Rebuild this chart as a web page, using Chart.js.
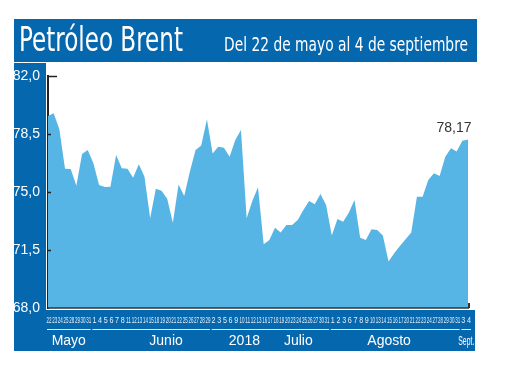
<!DOCTYPE html>
<html>
<head>
<meta charset="utf-8">
<script src="https://cdn.jsdelivr.net/npm/chart.js@4"></script>
<style>
  body { margin: 0; background: #fff; }
  #wrap { width: 520px; height: 390px; position: relative; }
</style>
</head>
<body>
<div id="wrap"><canvas id="brentChart"></canvas></div>
<script>
// Trading days shown on the axis (22 May - 4 Sept 2018)
const days = [
    '22','23','24','25','28','29','30','31',
    '1','4','5','6','7','8','11','12','13','14','15','18','19','20','21','22','25','26','27','28','29',
    '2','3','5','6','9','10','11','12','13','16','17','18','19','20','23','24','25','26','27','30','31',
    '1','2','3','6','7','8','9','10','13','14','15','16','17','20','21','22','23','24','27','28','29','30','31',
    '3','4'
];

// Brent price, USD per barrel
const prices = [
    79.59, 79.75, 78.78, 76.41, 76.39, 75.38, 77.29, 77.54,
    76.73, 75.42, 75.30, 75.32, 77.23, 76.43, 76.41, 75.86, 76.67, 75.92, 73.41, 75.20, 75.08, 74.60, 73.15, 75.46, 74.76, 76.23, 77.54, 77.80, 79.39,
    77.33, 77.73, 77.67, 77.13, 78.14, 78.74, 73.41, 74.46, 75.28, 71.84, 72.10, 72.85, 72.55, 73.01, 73.01, 73.31, 73.91, 74.46, 74.26, 74.88, 74.22,
    72.37, 73.37, 73.21, 73.75, 74.52, 72.24, 72.10, 72.75, 72.71, 72.37, 70.80, 71.30, 71.74, 72.15, 72.55, 74.72, 74.72, 75.73, 76.13, 75.97, 77.13, 77.64, 77.44,
    78.10, 78.17
];

const months = ['Mayo', 'Junio', 'Julio', 'Agosto', 'Sept.'];
const monthDays = [8, 21, 21, 23, 2];
const yearLabel = '2018';

const yTicks = [68, 71.5, 75, 78.5, 82];

const titleText = 'Petróleo Brent';
const subtitleText = 'Del 22 de mayo al 4 de septiembre';

// where month names sit, as a (fractional) point index
const monthLabelAt = { 'Mayo': 3.66, 'Junio': 20.8, 'Julio': 44.1, 'Agosto': 60.1, 'Sept.': 73.7 };
const yearLabelAt = 34.6;

const BLUE = '#0567ad';
const FILL = '#56b5e4';

function fmt(v, d) {
    return v.toFixed(d).replace('.', ',');
}

// blue frame + title behind the chart, axis extras on top
const framePlugin = {
    id: 'frame',
    beforeDraw(chart) {
        const ctx = chart.ctx;
        ctx.save();
        ctx.fillStyle = '#fff';
        ctx.fillRect(0, 0, chart.width, chart.height);

        ctx.fillStyle = BLUE;
        ctx.fillRect(14, 19, 463, 43);   // title bar
        ctx.fillRect(14, 63, 32, 288);   // left column
        ctx.fillRect(14, 310, 461, 41);  // bottom band

        ctx.fillStyle = '#fff';
        ctx.textBaseline = 'alphabetic';
        ctx.textAlign = 'left';
        ctx.font = '33px "Liberation Sans Narrow", "DejaVu Sans Condensed", sans-serif';
        ctx.fillText(titleText, 19, 51, 164);
        ctx.font = '19px "Liberation Sans Narrow", "DejaVu Sans Condensed", sans-serif';
        ctx.fillText(subtitleText, 224, 51, 244);
        ctx.restore();
    },
    afterDraw(chart) {
        const ctx = chart.ctx;
        const area = chart.chartArea;
        const xs = chart.scales.x;
        const ys = chart.scales.y;
        ctx.save();

        // inward ticks on the value axis
        ctx.strokeStyle = '#222';
        ctx.lineWidth = 1.5;
        yTicks.forEach(v => {
            if (v === 68) return;
            const y = Math.round(ys.getPixelForValue(v)) + 0.5;
            ctx.beginPath();
            ctx.moveTo(area.left, y);
            ctx.lineTo(area.left + (v === 82 ? 9 : 3), y);
            ctx.stroke();
        });

        // bottom axis line and end mark
        ctx.strokeStyle = '#333';
        ctx.lineWidth = 1.5;
        ctx.beginPath();
        ctx.moveTo(area.left, area.bottom);
        ctx.lineTo(area.right + 1, area.bottom);
        ctx.stroke();
        ctx.lineWidth = 2;
        ctx.beginPath();
        ctx.moveTo(area.right + 1, area.bottom);
        ctx.lineTo(area.right + 1, area.bottom - 5);
        ctx.stroke();

        // day numbers
        ctx.fillStyle = '#e6eff8';
        ctx.textAlign = 'center';
        ctx.textBaseline = 'middle';
        ctx.font = '9px "Liberation Sans Narrow", sans-serif';
        days.forEach((d, i) => {
            const x = xs.getPixelForValue(i) + 1;
            ctx.fillText(d, x, 321, d.length > 1 ? 5 : 4);
        });

        // month underlines
        ctx.strokeStyle = '#dfe9f4';
        ctx.lineWidth = 1;
        let start = 0;
        monthDays.forEach(n => {
            const x0 = xs.getPixelForValue(start) - 1;
            const x1 = xs.getPixelForValue(start + n - 1) + 3;
            ctx.beginPath();
            ctx.moveTo(x0, 329.5);
            ctx.lineTo(x1, 329.5);
            ctx.stroke();
            start += n;
        });

        // month names
        ctx.fillStyle = '#fff';
        const px = idx => {
            const a = Math.floor(idx);
            const b = Math.min(a + 1, days.length - 1);
            const pa = xs.getPixelForValue(a);
            const pb = xs.getPixelForValue(b);
            return pa + (pb - pa) * (idx - a);
        };
        months.forEach(m => {
            if (m === 'Sept.') {
                ctx.font = '13px "Liberation Sans Narrow", sans-serif';
                ctx.fillText(m, px(monthLabelAt[m]), 341, 16);
            } else {
                ctx.font = '14px "Liberation Sans", sans-serif';
                ctx.fillText(m, px(monthLabelAt[m]), 341);
            }
        });
        ctx.font = '14px "Liberation Sans", sans-serif';
        ctx.fillText(yearLabel, px(yearLabelAt), 341);

        // last value label
        const last = prices.length - 1;
        const lx = xs.getPixelForValue(last);
        const ly = ys.getPixelForValue(prices[last]);
        ctx.fillStyle = '#333';
        ctx.textBaseline = 'alphabetic';
        ctx.font = '14px "Liberation Sans", sans-serif';
        ctx.fillText(fmt(prices[last], 2), lx - 14, ly - 7);

        ctx.restore();
    }
};

new Chart(document.getElementById('brentChart'), {
    type: 'line',
    data: {
        labels: days,
        datasets: [{
            data: prices,
            fill: 'start',
            backgroundColor: FILL,
            borderWidth: 0,
            pointRadius: 0,
            tension: 0
        }]
    },
    options: {
        responsive: true,
        maintainAspectRatio: false,
        animation: false,
        layout: {
            padding: { left: 14, right: 52, top: 76, bottom: 82 }
        },
        plugins: {
            legend: { display: false },
            tooltip: { enabled: false }
        },
        scales: {
            x: {
                display: false
            },
            y: {
                min: 68,
                max: 82,
                afterFit(scale) { scale.width = 34; },
                afterBuildTicks(scale) {
                    scale.ticks = yTicks.map(v => ({ value: v }));
                },
                grid: { display: false, drawTicks: false },
                border: { display: true, color: '#222', width: 2 },
                ticks: {
                    color: '#fff',
                    padding: 8,
                    font: { family: '"Liberation Sans Narrow", sans-serif', size: 14 },
                    callback: v => fmt(v, 1)
                }
            }
        }
    },
    plugins: [framePlugin]
});
</script>
</body>
</html>
